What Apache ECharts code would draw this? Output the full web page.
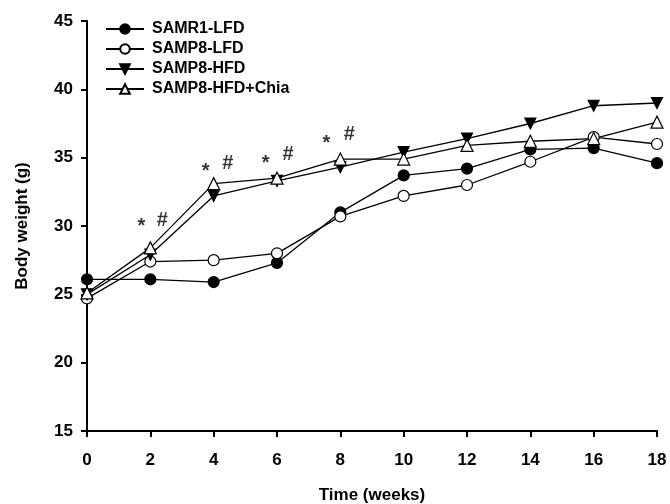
<!DOCTYPE html>
<html>
<head>
<meta charset="utf-8">
<script src="https://cdn.jsdelivr.net/npm/echarts@6/dist/echarts.min.js"></script>
<style>
  html, body { margin: 0; padding: 0; background: #fff; }
  #main { width: 670px; height: 504px; }
</style>
</head>
<body>
<div id="main"></div>
<script>
// weeks on the x axis
var weeks = [0, 2, 4, 6, 8, 10, 12, 14, 16, 18];
var yTicks = [15, 20, 25, 30, 35, 40, 45];

// body weight (g)
var samr1Lfd = [26.1, 26.1, 25.9, 27.3, 31.0, 33.7, 34.2, 35.6, 35.7, 34.6];
var samp8Lfd = [24.7, 27.4, 27.5, 28.0, 30.7, 32.2, 33.0, 34.7, 36.5, 36.0];
var samp8Hfd = [25.0, 27.9, 32.2, 33.3, 34.3, 35.4, 36.4, 37.5, 38.8, 39.0];
var samp8HfdChia = [25.1, 28.4, 33.1, 33.5, 34.9, 34.9, 35.9, 36.2, 36.4, 37.6];

// significance marks
var annoX = [1.72, 2.38, 3.75, 4.45, 5.64, 6.35, 7.56, 8.28];
var annoY = [30.0, 30.4, 34.0, 34.55, 34.6, 35.25, 36.05, 36.7];
var annoText = ['*', '#', '*', '#', '*', '#', '*', '#'];

var font = '"Liberation Sans", Arial, sans-serif';

function pairs(vals) {
  var out = [];
  for (var i = 0; i < weeks.length; i++) {
    out.push([weeks[i], vals[i]]);
  }
  return out;
}

function lineSeries(name, vals, symbol, size, filled, rotate) {
  return {
    name: name,
    type: 'line',
    data: pairs(vals),
    symbol: symbol,
    symbolSize: size,
    symbolRotate: rotate || 0,
    showAllSymbol: true,
    lineStyle: { color: '#000', width: 1.3 },
    itemStyle: { color: filled ? '#000' : '#fff', borderColor: '#000', borderWidth: 1.2 },
    emphasis: { disabled: true },
    z: 3
  };
}

var annoData = [];
for (var i = 0; i < annoX.length; i++) {
  annoData.push({ value: [annoX[i], annoY[i]], label: { formatter: annoText[i] } });
}

var chart = echarts.init(document.getElementById('main'), null, { renderer: 'canvas' });

var option = {
  backgroundColor: '#fff',
  animation: false,
  grid: { left: 87, right: 13, top: 21, bottom: 73, outerBoundsMode: 'none' },
  legend: {
    orient: 'vertical',
    left: 100,
    top: 16,
    itemWidth: 38,
    itemHeight: 12,
    itemGap: 4,
    textStyle: { fontFamily: font, fontWeight: 'bold', fontSize: 16, color: '#000', padding: [0, 0, 0, 3] },
    data: ['SAMR1-LFD', 'SAMP8-LFD', 'SAMP8-HFD', 'SAMP8-HFD+Chia']
  },
  xAxis: {
    type: 'value',
    min: 0,
    max: 18,
    interval: 2,
    name: 'Time (weeks)',
    nameLocation: 'middle',
    nameGap: 56,
    nameTextStyle: { fontFamily: font, fontWeight: 'bold', fontSize: 17, color: '#000' },
    axisLine: { show: true, lineStyle: { color: '#000', width: 2 } },
    axisTick: { show: true, length: 6, lineStyle: { color: '#000', width: 2 } },
    axisLabel: { margin: 21, fontFamily: font, fontWeight: 'bold', fontSize: 17, color: '#000' },
    splitLine: { show: false }
  },
  yAxis: {
    type: 'value',
    min: yTicks[0],
    max: yTicks[yTicks.length - 1],
    interval: 5,
    name: 'Body weight (g)',
    nameLocation: 'middle',
    nameGap: 56,
    nameTextStyle: { fontFamily: font, fontWeight: 'bold', fontSize: 17, color: '#000' },
    axisLine: { show: true, lineStyle: { color: '#000', width: 2 } },
    axisTick: { show: true, length: 6, lineStyle: { color: '#000', width: 2 } },
    axisLabel: { margin: 14, fontFamily: font, fontWeight: 'bold', fontSize: 17, color: '#000' },
    splitLine: { show: false }
  },
  series: [
    lineSeries('SAMR1-LFD', samr1Lfd, 'circle', 11, true),
    lineSeries('SAMP8-LFD', samp8Lfd, 'circle', 11, false),
    lineSeries('SAMP8-HFD', samp8Hfd, 'triangle', 11, true, 180),
    lineSeries('SAMP8-HFD+Chia', samp8HfdChia, 'triangle', 12, false),
    {
      type: 'scatter',
      data: annoData,
      symbolSize: 0,
      silent: true,
      label: {
        show: true,
        position: 'inside',
        fontFamily: font,
        fontWeight: 'bold',
        fontSize: 20,
        color: '#000'
      },
      z: 4
    }
  ]
};

chart.setOption(option);
</script>
</body>
</html>
